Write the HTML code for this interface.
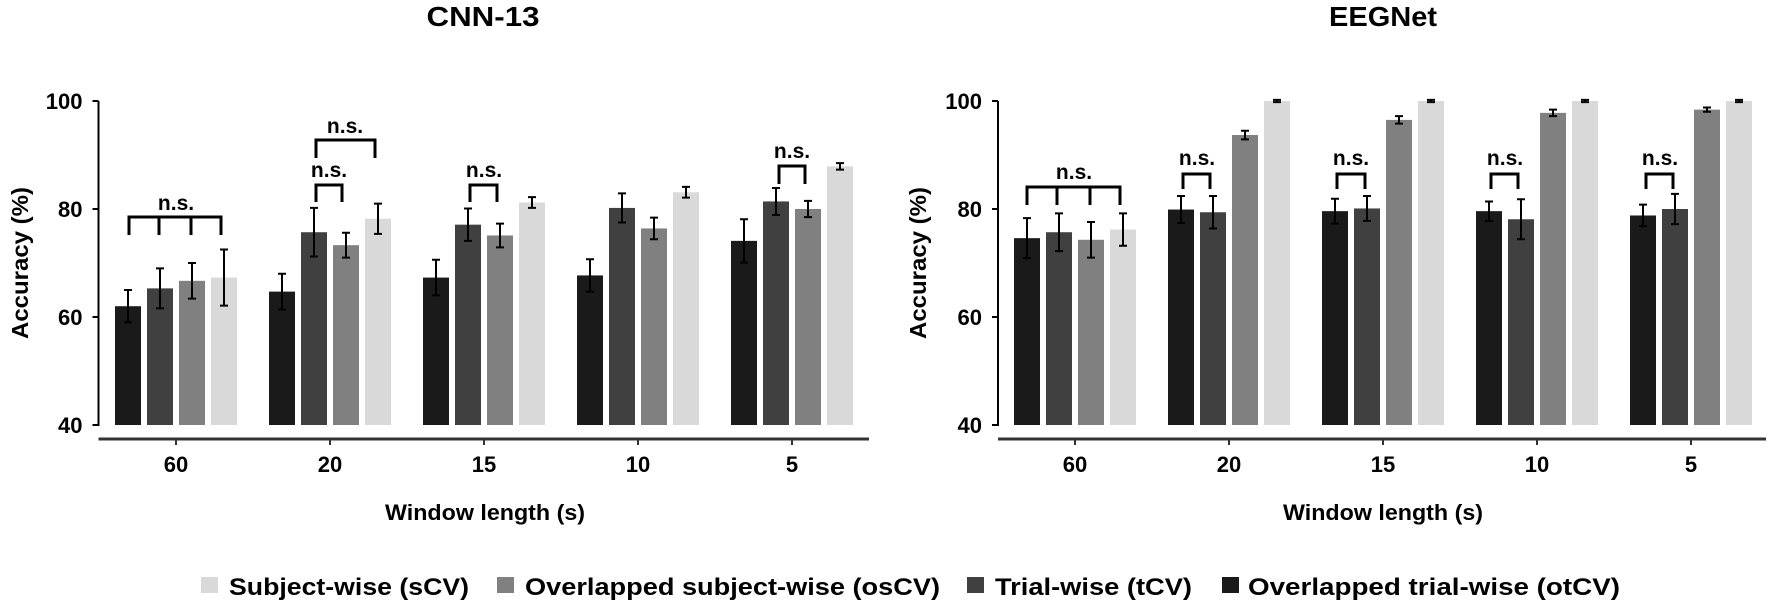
<!DOCTYPE html>
<html><head><meta charset="utf-8"><style>
html,body{margin:0;padding:0;background:#fff;}
svg{display:block;font-family:"Liberation Sans",sans-serif;font-weight:bold;}
</style></head><body>
<svg id="s" width="1770" height="604" viewBox="0 0 1770 604" xmlns="http://www.w3.org/2000/svg">
<text x="483" y="26" font-size="28" text-anchor="middle" textLength="113" lengthAdjust="spacingAndGlyphs">CNN-13</text>
<text x="1383" y="26" font-size="28" text-anchor="middle" textLength="108" lengthAdjust="spacingAndGlyphs">EEGNet</text>
<text transform="translate(28,263) rotate(-90)" font-size="23" text-anchor="middle" textLength="152" lengthAdjust="spacingAndGlyphs">Accuracy (%)</text>
<text transform="translate(926,263) rotate(-90)" font-size="23" text-anchor="middle" textLength="152" lengthAdjust="spacingAndGlyphs">Accuracy (%)</text>
<text x="485" y="520" font-size="22" text-anchor="middle" textLength="200" lengthAdjust="spacingAndGlyphs">Window length (s)</text>
<text x="1383" y="520" font-size="22" text-anchor="middle" textLength="200" lengthAdjust="spacingAndGlyphs">Window length (s)</text>
<rect x="201" y="577" width="17" height="16" fill="#d9d9d9"/>
<text x="229" y="595" font-size="24" textLength="240" lengthAdjust="spacingAndGlyphs">Subject-wise (sCV)</text>
<rect x="497" y="577" width="17" height="16" fill="#808080"/>
<text x="525" y="595" font-size="24" textLength="415" lengthAdjust="spacingAndGlyphs">Overlapped subject-wise (osCV)</text>
<rect x="967" y="577" width="17" height="16" fill="#404040"/>
<text x="995" y="595" font-size="24" textLength="197" lengthAdjust="spacingAndGlyphs">Trial-wise (tCV)</text>
<rect x="1222" y="577" width="17" height="16" fill="#1a1a1a"/>
<text x="1248" y="595" font-size="24" textLength="372" lengthAdjust="spacingAndGlyphs">Overlapped trial-wise (otCV)</text>
<g id="g"></g>
</svg>
<script>
var g=document.getElementById('g'),h='';
function Y(v){return 425-(v-40)*5.4;}
var cols=['#1a1a1a','#404040','#808080','#d9d9d9'];
var panels=[
 {ax:98.5,x0:98.5,x1:869,tk:[176,330,484,638,792],
  d:[[[62,3],[65.3,3.7],[66.7,3.3],[67.3,5.2]],[[64.7,3.3],[75.7,4.5],[73.3,2.3],[78.2,2.8]],[[67.3,3.3],[77.1,3],[75.1,2.2],[81.2,1]],[[67.7,3],[80.2,2.7],[76.4,2],[83.1,1]],[[74.1,4],[81.4,2.5],[80,1.5],[87.9,0.6]]]},
 {ax:998,x0:998,x1:1766,tk:[1075,1229,1383,1537,1691],
  d:[[[74.6,3.7],[75.7,3.5],[74.3,3.3],[76.2,3]],[[79.9,2.5],[79.4,3],[93.7,0.8],[100,0.2]],[[79.6,2.3],[80.1,2.3],[96.5,0.7],[100,0.2]],[[79.6,1.8],[78.1,3.7],[97.8,0.6],[100,0.2]],[[78.8,2],[80,2.8],[98.4,0.4],[100,0.2]]]}];
panels.forEach(function(p){
 h+='<line x1="'+p.ax+'" y1="101" x2="'+p.ax+'" y2="426" stroke="#000" stroke-width="2"/>';
 [40,60,80,100].forEach(function(v){var y=Y(v);
  h+='<line x1="'+(p.ax-6)+'" y1="'+y+'" x2="'+p.ax+'" y2="'+y+'" stroke="#000" stroke-width="2"/>';
  h+='<text x="'+(p.ax-16)+'" y="'+(y+8)+'" font-size="22" text-anchor="end">'+v+'</text>';});
 h+='<line x1="'+p.x0+'" y1="439" x2="'+p.x1+'" y2="439" stroke="#333" stroke-width="3"/>';
 var labs=['60','20','15','10','5'];
 p.tk.forEach(function(c,i){
  h+='<line x1="'+c+'" y1="439" x2="'+c+'" y2="445" stroke="#333" stroke-width="2"/>';
  h+='<text x="'+c+'" y="472" font-size="22" text-anchor="middle">'+labs[i]+'</text>';
  p.d[i].forEach(function(b,j){
   var bc=c-48+32*j,y=Y(b[0]);
   h+='<rect x="'+(bc-13)+'" y="'+y+'" width="26" height="'+(425-y)+'" fill="'+cols[j]+'"/>';
   var t=Y(b[0]+b[1]),bo=Y(b[0]-b[1]);
   h+='<path d="M'+bc+' '+t+'V'+bo+'M'+(bc-4)+' '+t+'h8M'+(bc-4)+' '+bo+'h8" stroke="#000" stroke-width="2" fill="none"/>';
  });
 });
});
function br(xs,yh,yb,tx,ty){
 var d='M'+xs[0]+' '+yb+'V'+yh+'H'+xs[xs.length-1]+'V'+yb;
 for(var i=1;i<xs.length-1;i++)d+='M'+xs[i]+' '+yh+'V'+yb;
 h+='<path d="'+d+'" stroke="#000" stroke-width="3" fill="none"/>';
 h+='<text x="'+tx+'" y="'+ty+'" font-size="21" text-anchor="middle">n.s.</text>';
}
br([129,159,191,221],217,235,176,210);
br([316,342],185,202,329,177);
br([316,375],140,158,345,133);
br([470,497],185,202,484,177);
br([779,805],166,184,792,158);
br([1027,1057,1090,1120],187,205,1074,179);
br([1183,1210],174,189,1197,165);
br([1337,1365],174,189,1351,165);
br([1491,1518],174,189,1505,165);
br([1646,1673],174,189,1660,165);
g.innerHTML=h;
</script>
</body></html>
